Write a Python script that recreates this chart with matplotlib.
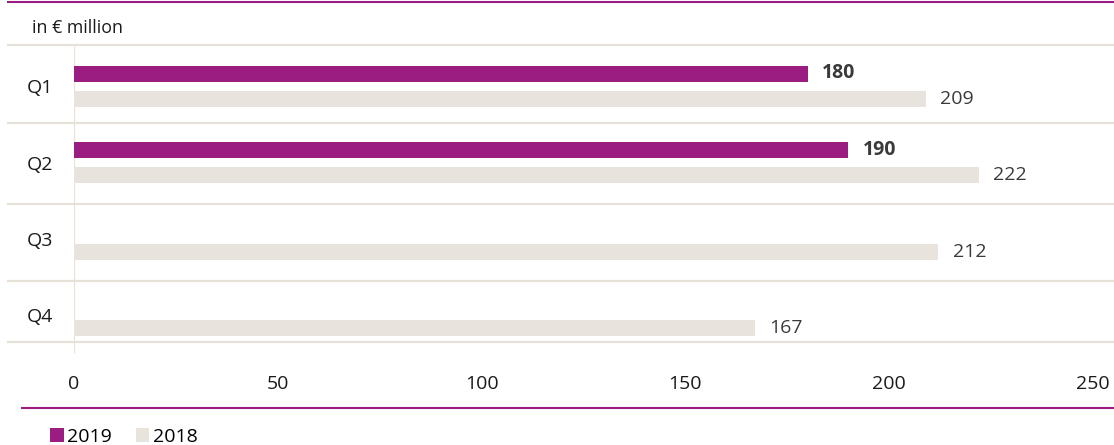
import matplotlib.pyplot as plt
from matplotlib.lines import Line2D
import numpy as np

plt.rcParams['font.family'] = ['Open Sans', 'DejaVu Sans']

# Data
quarters = ['Q1', 'Q2', 'Q3', 'Q4']
values_2019 = [180, 190, None, None]
values_2018 = [209, 222, 212, 167]
xticks = [0, 50, 100, 150, 200, 250]

purple = '#9B1D82'
beige = '#E8E4DD'
sep_color = '#E6E1D9'

W, H = 1114, 445
fig = plt.figure(figsize=(W / 100, H / 100), dpi=100)

# axes: x=0 at px 74, x=250 at px 1093; top px 45, bottom px 353
ax_top, ax_bot = 45, 353
ax = fig.add_axes([74 / W, 1 - ax_bot / H, (1093 - 74) / W, (ax_bot - ax_top) / H])

pitch = 76.3  # px per category
y = np.arange(len(quarters))
off = 12.75 / pitch
bh = 16 / pitch

y19 = [yy - off for yy, v in zip(y, values_2019) if v is not None]
v19 = [v for v in values_2019 if v is not None]
b19 = ax.barh(y19, v19, height=bh, color=purple, label='2019')
b18 = ax.barh(y + off, values_2018, height=bh, color=beige, label='2018')

for yy, v in zip(y19, v19):
    ax.annotate(str(v), (v, yy), xytext=(10.5, 0), textcoords='offset points',
                va='center', ha='left', fontsize=14, fontweight='bold', color='#3a3a3a')
for yy, v in zip(y + off, values_2018):
    ax.annotate(str(v), (v, yy), xytext=(10.5, 0), textcoords='offset points',
                va='center', ha='left', fontsize=14, color='#3a3a3a')

# y range in category units
top_u = (ax_top - 86.25) / pitch
bot_u = (ax_bot - 86.25) / pitch
ax.set_ylim(bot_u, top_u)
ax.set_xlim(0, 250)

# row separators
seps = [-0.54, 0.486, 1.547, 2.552, 3.352]
axw = 1093 - 74
for s in seps:
    ax.axhline(s, xmin=(8 - 74) / axw, xmax=(1114 - 74) / axw, color=sep_color,
               lw=1.6, clip_on=False, zorder=0)
ax.axvline(0, ymin=0, ymax=(ax_bot - 48) / (ax_bot - ax_top), color=sep_color, lw=1.6, zorder=0)

for sp in ax.spines.values():
    sp.set_visible(False)
ax.set_yticks(y)
ax.set_yticklabels(quarters)
ax.set_xticks(xticks)
ax.tick_params(axis='y', length=0, pad=15, labelsize=14, labelcolor='#1a1a1a')
ax.tick_params(axis='x', length=0, pad=15.5, labelsize=14, labelcolor='#1a1a1a')

# title / unit
fig.text(32 / W, 1 - 28 / H, 'in € million', fontsize=12.8, va='center', ha='left', color='#1a1a1a')

# purple rules
fig.add_artist(Line2D([8 / W, 1], [1 - 2 / H, 1 - 2 / H], color=purple, lw=1.5))
fig.add_artist(Line2D([22 / W, 1], [1 - 408 / H, 1 - 408 / H], color=purple, lw=1.5))

fig.legend(handles=[b19, b18], labels=['2019', '2018'], loc='center left',
           bbox_to_anchor=(50 / W, 1 - 437 / H), ncol=2, frameon=False, fontsize=14,
           handlelength=0.7, handleheight=0.7, handletextpad=0.2, columnspacing=1.2,
           borderpad=0, borderaxespad=0)

fig.savefig('out.png', dpi=100)
